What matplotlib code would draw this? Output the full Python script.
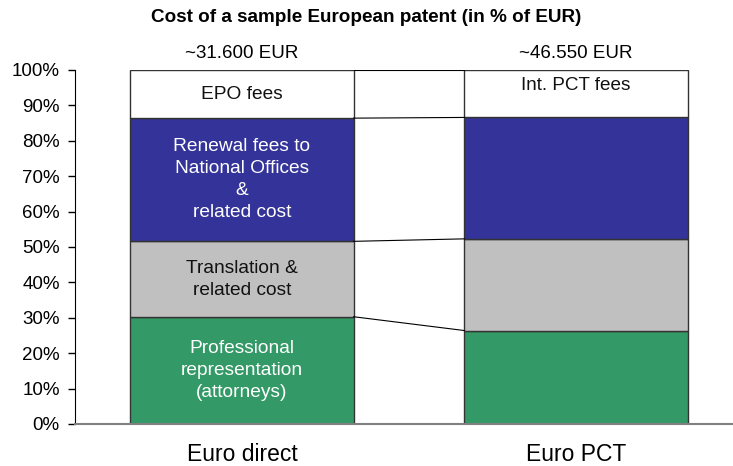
import matplotlib.pyplot as plt
import numpy as np

plt.rcParams['font.family'] = ['Liberation Sans', 'DejaVu Sans']

# --- Data ---
bars = ["Euro direct", "Euro PCT"]
totals = ["~31.600 EUR", "~46.550 EUR"]
segments = ["Professional", "Translation", "Renewal", "Fees"]
# segment shares in % (bottom to top)
direct = [30.3, 21.3, 34.8, 13.6]
pct = [26.4, 25.9, 34.3, 13.4]
colors = ["#339966", "#c0c0c0", "#333399", "#ffffff"]
seg_labels_direct = ["Professional\nrepresentation\n(attorneys)",
                     "Translation &\nrelated cost",
                     "Renewal fees to\nNational Offices\n&\nrelated cost",
                     "EPO fees"]
label_colors = ["white", "#111111", "white", "#111111"]

fig = plt.figure(figsize=(7.33, 4.66), dpi=100)
ax = fig.add_axes([75 / 733, 1 - 424 / 466, 1 - 75 / 733, 354 / 466])

x = np.arange(len(bars))
width = 0.668
data = np.array([direct, pct])
bottoms = np.zeros(len(bars))
for i in range(len(segments)):
    ax.bar(x, data[:, i], width, bottom=bottoms, color=colors[i],
           edgecolor="#333333", linewidth=1, zorder=2)
    bottoms += data[:, i]

# connector lines between the bars
cum = np.cumsum(data, axis=1)
for i in range(len(segments)):
    ax.plot([x[0] + width / 2, x[1] - width / 2], [cum[0, i], cum[1, i]],
            color="black", linewidth=0.8, zorder=3)

# segment labels on the first bar
starts = cum[0] - data[0]
for i, lab in enumerate(seg_labels_direct):
    ax.text(x[0], starts[i] + data[0, i] / 2, lab, ha="center", va="center",
            color=label_colors[i], fontsize=13.8, linespacing=1.38, zorder=4)
ax.text(x[1], 95.6, "Int. PCT fees", ha="center", va="center",
        color="#111111", fontsize=13.6, zorder=4)

# totals above bars
for xi, t in zip(x, totals):
    ax.text(xi, 102.3, t, ha="center", va="bottom", fontsize=13.5)

fig.text(0.5, 0.962, "Cost of a sample European patent (in % of EUR)",
         ha="center", va="center", fontsize=13.6, fontweight="bold")

ax.set_xlim(-0.5, 1.47)
ax.set_ylim(0, 100)
ax.set_yticks(np.arange(0, 101, 10))
ax.set_yticklabels([f"{v}%" for v in range(0, 101, 10)], fontsize=13.5)
ax.set_xticks(x)
ax.set_xticklabels(bars, fontsize=16.5)
ax.tick_params(axis="x", length=0, pad=14)
ax.tick_params(axis="y", length=5, width=1, direction="out", pad=6)
ax.spines["top"].set_visible(False)
ax.spines["right"].set_visible(False)
ax.spines["left"].set_color("black")
ax.spines["bottom"].set_color("#808080")
ax.spines["bottom"].set_linewidth(1.5)

fig.savefig("out.png", dpi=100)
